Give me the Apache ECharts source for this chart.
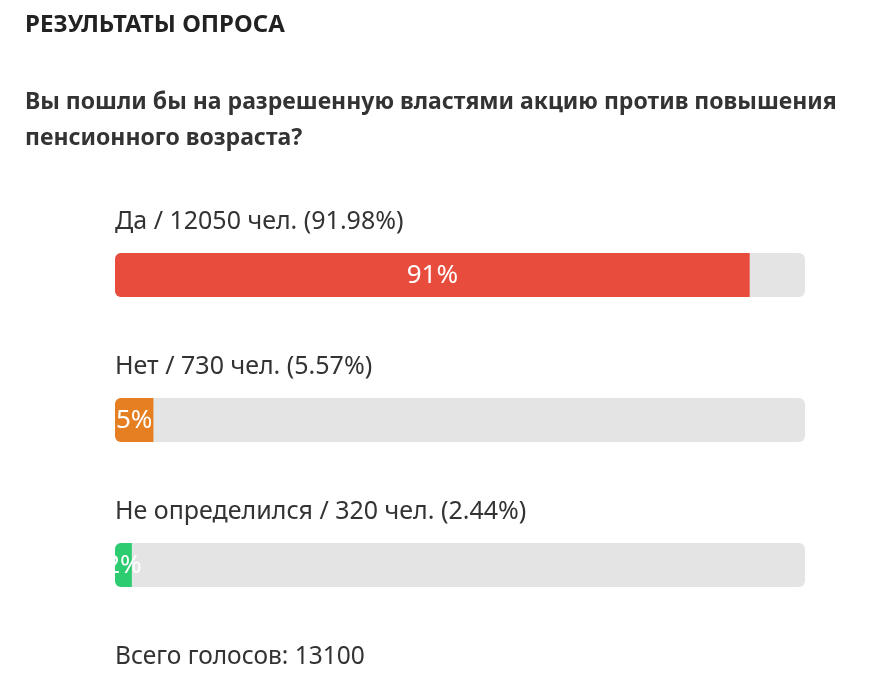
<!DOCTYPE html>
<html>
<head>
<meta charset="utf-8">
<script src="https://cdn.jsdelivr.net/npm/echarts@6/dist/echarts.min.js"></script>
<style>
html,body{margin:0;padding:0;background:#fff;}
#chart{width:895px;height:691px;}
</style>
</head>
<body>
<div id="chart"></div>
<script>
var pollTitle = 'РЕЗУЛЬТАТЫ ОПРОСА';
var questionLines = ['Вы пошли бы на разрешенную властями акцию против повышения', 'пенсионного возраста?'];
var categories = ['Да', 'Нет', 'Не определился'];
var votes = [12050, 730, 320];
var percents = [91.98, 5.57, 2.44];
var colors = ['#e74c3c', '#e67e22', '#2ecc71'];
var totalVotes = 13100;

var FONT = '"Noto Sans", "Open Sans", sans-serif';
var chart = echarts.init(document.getElementById('chart'));

var data = percents.map(function (p, i) { return [p, i]; });

chart.setOption({
  animation: false,
  graphic: [
    { type: 'text', x: 25, y: 25, style: { text: pollTitle, font: 'bold 24px ' + FONT, fill: '#222', textVerticalAlign: 'middle' } },
    { type: 'text', x: 25, y: 102, style: { text: questionLines[0], font: 'bold 23px ' + FONT, fill: '#333', textVerticalAlign: 'middle' } },
    { type: 'text', x: 25, y: 138, style: { text: questionLines[1], font: 'bold 23px ' + FONT, fill: '#333', textVerticalAlign: 'middle' } },
    { type: 'text', x: 115, y: 657, style: { text: 'Всего голосов: ' + totalVotes, font: '24.5px ' + FONT, fill: '#333', textVerticalAlign: 'middle' } }
  ],
  grid: { left: 115, width: 690, top: 202.5, height: 435, containLabel: false },
  xAxis: { type: 'value', min: 0, max: 100, show: false },
  yAxis: { type: 'category', data: categories, inverse: true, show: false },
  series: [{
    type: 'custom',
    data: data,
    clip: false,
    renderItem: function (params, api) {
      var idx = api.value(1);
      var p = api.value(0);
      var start = api.coord([0, idx]);
      var end = api.coord([p, idx]);
      var full = api.coord([100, idx]);
      var h = 44;
      var y = start[1] - h / 2;
      var x0 = start[0];
      var xe = end[0];
      var w = full[0] - x0;
      var tx = (x0 + xe) / 2;
      var ty = start[1] + 1;
      return {
        type: 'group',
        children: [
          { type: 'text', x: x0, y: start[1] - 53, style: {
              text: categories[idx] + ' / ' + votes[idx] + ' чел. (' + percents[idx].toFixed(2) + '%)',
              font: '25px ' + FONT, fill: '#333', textAlign: 'left', textVerticalAlign: 'middle' } },
          { type: 'rect', shape: { x: x0, y: y, width: w, height: h, r: 6 }, style: { fill: '#e4e4e4' } },
          { type: 'rect', shape: { x: x0, y: y, width: xe - x0, height: h, r: [6, 0, 0, 6] }, style: { fill: colors[idx] } },
          { type: 'text', x: tx, y: ty,
            style: { text: Math.floor(p) + '%', font: '26px ' + FONT, fill: '#fff', textAlign: 'center', textVerticalAlign: 'middle' },
            clipPath: { type: 'rect', shape: { x: x0 - tx, y: y - ty, width: w, height: h } } }
        ]
      };
    }
  }]
});
</script>
</body>
</html>
